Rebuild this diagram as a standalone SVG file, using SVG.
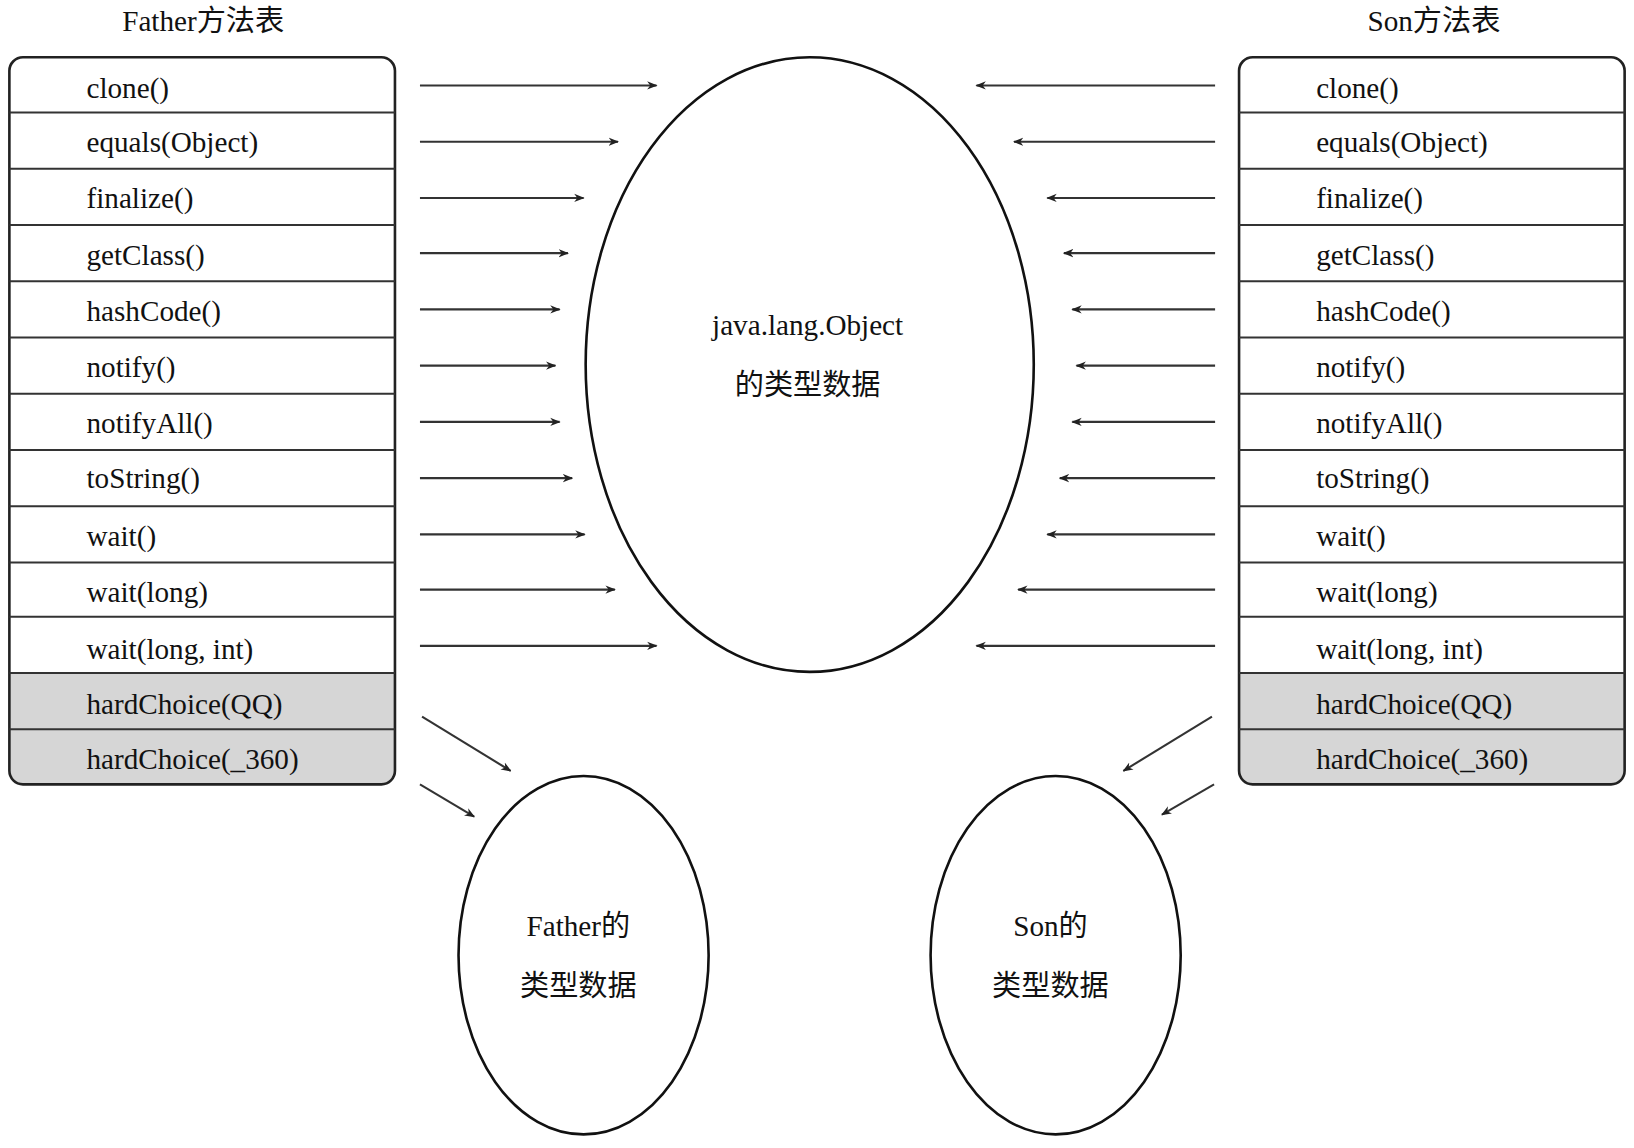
<svg xmlns="http://www.w3.org/2000/svg" width="1634" height="1148" viewBox="0 0 1634 1148">
<defs>
<marker id="ah" viewBox="0 0 10 10" refX="9" refY="5" markerWidth="10" markerHeight="10" markerUnits="userSpaceOnUse" orient="auto"><path d="M0,1 L10,5 L0,9 L3,5 Z" fill="#222"/></marker>
</defs>
<style>
text{font-family:"Liberation Serif","Noto Sans CJK SC",serif;font-size:28px;fill:#111}
.t{text-anchor:middle}
.box{fill:#fff;stroke:#222;stroke-width:2.5}
.sep{stroke:#333;stroke-width:2}
.gray{fill:#d6d6d6}
.ell{fill:#fff;stroke:#111;stroke-width:2.5}
.c line{stroke:#333;stroke-width:2;marker-end:url(#ah)}
</style>
<rect width="1634" height="1148" fill="#fff"/>
<g transform="scale(1.0421,1.0417)">
<g id="fatherTable">
<text class="t" x="195" y="30">Father方法表</text>
<path class="gray" d="M9,646 H379 V740 Q379,753 366,753 H22 Q9,753 9,740 Z"/>
<rect class="box" x="9" y="55" width="370" height="698" rx="13" fill="none" style="fill:none"/>
<g class="sep"><line x1="9" y1="108" x2="379" y2="108"/><line x1="9" y1="162" x2="379" y2="162"/><line x1="9" y1="216" x2="379" y2="216"/><line x1="9" y1="270" x2="379" y2="270"/><line x1="9" y1="324" x2="379" y2="324"/><line x1="9" y1="378" x2="379" y2="378"/><line x1="9" y1="432" x2="379" y2="432"/><line x1="9" y1="486" x2="379" y2="486"/><line x1="9" y1="540" x2="379" y2="540"/><line x1="9" y1="592" x2="379" y2="592"/><line x1="9" y1="646" x2="379" y2="646"/><line x1="9" y1="700" x2="379" y2="700"/></g>
<text x="83" y="94">clone()</text><text x="83" y="146">equals(Object)</text><text x="83" y="200">finalize()</text><text x="83" y="254">getClass()</text><text x="83" y="308">hashCode()</text><text x="83" y="362">notify()</text><text x="83" y="416">notifyAll()</text><text x="83" y="468">toString()</text><text x="83" y="524">wait()</text><text x="83" y="578">wait(long)</text><text x="83" y="633">wait(long, int)</text><text x="83" y="685">hardChoice(QQ)</text><text x="83" y="738">hardChoice(_360)</text>
</g>
<g id="sonTable">
<text class="t" x="1376" y="30">Son方法表</text>
<path class="gray" d="M1189,646 H1559 V740 Q1559,753 1546,753 H1202 Q1189,753 1189,740 Z"/>
<rect class="box" x="1189" y="55" width="370" height="698" rx="13" style="fill:none"/>
<g class="sep"><line x1="1189" y1="108" x2="1559" y2="108"/><line x1="1189" y1="162" x2="1559" y2="162"/><line x1="1189" y1="216" x2="1559" y2="216"/><line x1="1189" y1="270" x2="1559" y2="270"/><line x1="1189" y1="324" x2="1559" y2="324"/><line x1="1189" y1="378" x2="1559" y2="378"/><line x1="1189" y1="432" x2="1559" y2="432"/><line x1="1189" y1="486" x2="1559" y2="486"/><line x1="1189" y1="540" x2="1559" y2="540"/><line x1="1189" y1="592" x2="1559" y2="592"/><line x1="1189" y1="646" x2="1559" y2="646"/><line x1="1189" y1="700" x2="1559" y2="700"/></g>
<text x="1263" y="94">clone()</text><text x="1263" y="146">equals(Object)</text><text x="1263" y="200">finalize()</text><text x="1263" y="254">getClass()</text><text x="1263" y="308">hashCode()</text><text x="1263" y="362">notify()</text><text x="1263" y="416">notifyAll()</text><text x="1263" y="468">toString()</text><text x="1263" y="524">wait()</text><text x="1263" y="578">wait(long)</text><text x="1263" y="633">wait(long, int)</text><text x="1263" y="685">hardChoice(QQ)</text><text x="1263" y="738">hardChoice(_360)</text>
</g>
<g id="objectData">
<ellipse class="ell" cx="777" cy="350" rx="215" ry="295"/>
<text class="t" x="775" y="322">java.lang.Object</text>
<text class="t" x="775" y="379">的类型数据</text>
</g>
<g id="fatherData">
<ellipse class="ell" cx="560" cy="917" rx="120" ry="172"/>
<text class="t" x="555" y="899">Father的</text>
<text class="t" x="555" y="956">类型数据</text>
</g>
<g id="sonData">
<ellipse class="ell" cx="1013" cy="917" rx="120" ry="172"/>
<text class="t" x="1008" y="899">Son的</text>
<text class="t" x="1008" y="956">类型数据</text>
</g>
<g class="c" id="connectors">
<line x1="403" y1="82" x2="630" y2="82"/><line x1="403" y1="136" x2="593" y2="136"/><line x1="403" y1="190" x2="560" y2="190"/><line x1="403" y1="243" x2="545" y2="243"/><line x1="403" y1="297" x2="537" y2="297"/><line x1="403" y1="351" x2="533" y2="351"/><line x1="403" y1="405" x2="537" y2="405"/><line x1="403" y1="459" x2="549" y2="459"/><line x1="403" y1="513" x2="561" y2="513"/><line x1="403" y1="566" x2="590" y2="566"/><line x1="403" y1="620" x2="630" y2="620"/>
<line x1="1166" y1="82" x2="937" y2="82"/><line x1="1166" y1="136" x2="973" y2="136"/><line x1="1166" y1="190" x2="1005" y2="190"/><line x1="1166" y1="243" x2="1021" y2="243"/><line x1="1166" y1="297" x2="1029" y2="297"/><line x1="1166" y1="351" x2="1033" y2="351"/><line x1="1166" y1="405" x2="1029" y2="405"/><line x1="1166" y1="459" x2="1017" y2="459"/><line x1="1166" y1="513" x2="1005" y2="513"/><line x1="1166" y1="566" x2="977" y2="566"/><line x1="1166" y1="620" x2="937" y2="620"/>
<line x1="405" y1="688" x2="490" y2="740"/><line x1="403" y1="753" x2="455" y2="784"/>
<line x1="1163" y1="688" x2="1078" y2="740"/><line x1="1165" y1="753" x2="1115" y2="782"/>
</g>
</g>
</svg>
